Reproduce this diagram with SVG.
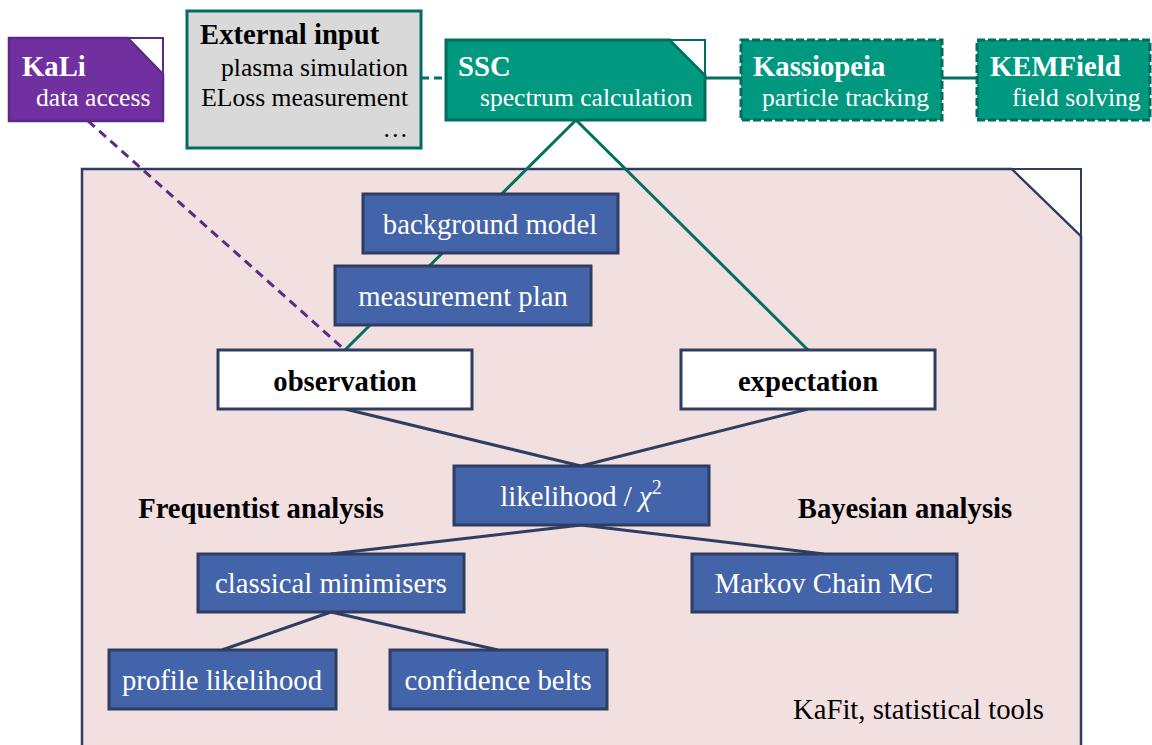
<svg xmlns="http://www.w3.org/2000/svg" width="1152" height="745" viewBox="0 0 1152 745">
<style>
.w{fill:#fff}
.b{font-weight:bold}
.m{text-anchor:middle}
.r{text-anchor:end}
.blue{fill:#4464aa;stroke:#2e3d62;stroke-width:3}
.white{fill:#fff;stroke:#2e3d62;stroke-width:3}
.teal{fill:#00987f;stroke:#006e5c;stroke-width:3}
.tealdash{fill:#00987f;stroke:#006e5c;stroke-width:3;stroke-dasharray:8 3}
.nav{stroke:#2e3d62;stroke-width:3;fill:none}
.tl{stroke:#007060;stroke-width:3;fill:none}
</style>
<rect width="1152" height="745" fill="#fff"/>
<g id="kafit">
<path d="M82,169 H1012 L1081,236 V760 H82 Z" fill="#f2dfe0" stroke="#2e3d62" stroke-width="2.5"/>
<path d="M1012,169 H1081 V236 Z" fill="#fff" stroke="#2e3d62" stroke-width="2"/>
<text x="1044" y="719" class="r" font-family="Liberation Serif" font-size="28.7">KaFit, statistical tools</text>
</g>
<g id="connectors">
<line x1="421" y1="78" x2="446" y2="78" class="tl" stroke-dasharray="8 5"/>
<line x1="705" y1="78" x2="741" y2="78" class="tl"/>
<line x1="942" y1="78" x2="977" y2="78" class="tl"/>
<line x1="576" y1="120" x2="345" y2="350" class="tl"/>
<line x1="576" y1="120" x2="808" y2="350" class="tl"/>
<line x1="88" y1="121" x2="345" y2="350" stroke="#5b2a86" stroke-width="3" stroke-dasharray="9 6"/>
<line x1="345" y1="409" x2="581" y2="466" class="nav"/>
<line x1="808" y1="409" x2="581" y2="466" class="nav"/>
<line x1="581" y1="525" x2="331" y2="554" class="nav"/>
<line x1="581" y1="525" x2="824" y2="554" class="nav"/>
<line x1="331" y1="612" x2="222" y2="650" class="nav"/>
<line x1="331" y1="612" x2="498" y2="650" class="nav"/>
</g>
<g id="kali">
<path d="M9,38 H128 L163,74 V121 H9 Z" fill="#7030a0" stroke="#5b2a86" stroke-width="2.5"/>
<path d="M128,38 H163 V74 Z" fill="#fff" stroke="#5b2a86" stroke-width="2"/>
<text x="22" y="76" class="w b" font-family="Liberation Serif" font-size="28.7">KaLi</text>
<text x="36" y="106" class="w" font-family="Liberation Serif" font-size="25.6">data access</text>
</g>
<g id="external">
<rect x="187" y="11" width="234" height="137" fill="#d9d9d9" stroke="#006e5c" stroke-width="3"/>
<text x="200" y="44" class="b" font-family="Liberation Serif" font-size="28.7">External input</text>
<text x="408" y="76" class="r" font-family="Liberation Serif" font-size="25.6">plasma simulation</text>
<text x="408" y="106" class="r" font-family="Liberation Serif" font-size="25.6">ELoss measurement</text>
<text x="408" y="137" class="r" font-family="Liberation Serif" font-size="25.6">…</text>
</g>
<g id="ssc">
<path d="M446,40 H670 L705,75 V120 H446 Z" class="teal"/>
<path d="M670,40 H705 V75 Z" fill="#fff" stroke="#006e5c" stroke-width="2"/>
<text x="458" y="76" class="w b" font-family="Liberation Serif" font-size="28.7">SSC</text>
<text x="480" y="106" class="w" font-family="Liberation Serif" font-size="25.6">spectrum calculation</text>
</g>
<g id="kassiopeia">
<rect x="741" y="40" width="201" height="80" class="tealdash"/>
<text x="753" y="76" class="w b" font-family="Liberation Serif" font-size="28.7">Kassiopeia</text>
<text x="762" y="106" class="w" font-family="Liberation Serif" font-size="25.6">particle tracking</text>
</g>
<g id="kemfield">
<rect x="977" y="40" width="173" height="80" class="tealdash"/>
<text x="990" y="76" class="w b" font-family="Liberation Serif" font-size="28.7">KEMField</text>
<text x="1012" y="106" class="w" font-family="Liberation Serif" font-size="25.6">field solving</text>
</g>
<g id="background">
<rect x="363" y="194" width="255" height="59" class="blue"/>
<text x="490" y="234" class="w m" font-family="Liberation Serif" font-size="28.7">background model</text>
</g>
<g id="measurement">
<rect x="335" y="266" width="256" height="59" class="blue"/>
<text x="463" y="306" class="w m" font-family="Liberation Serif" font-size="28.7">measurement plan</text>
</g>
<g id="observation">
<rect x="218" y="350" width="254" height="59" class="white"/>
<text x="345" y="391" class="b m" font-family="Liberation Serif" font-size="28.7">observation</text>
</g>
<g id="expectation">
<rect x="681" y="350" width="254" height="59" class="white"/>
<text x="808" y="391" class="b m" font-family="Liberation Serif" font-size="28.7">expectation</text>
</g>
<g id="likelihood">
<rect x="454" y="466" width="255" height="59" class="blue"/>
<text x="581" y="506" class="w m" font-family="Liberation Serif" font-size="28.7">likelihood / <tspan font-style="italic">χ</tspan><tspan dy="-12" font-size="20">2</tspan></text>
</g>
<g id="classical">
<rect x="198" y="554" width="266" height="58" class="blue"/>
<text x="331" y="593" class="w m" font-family="Liberation Serif" font-size="28.7">classical minimisers</text>
</g>
<g id="markov">
<rect x="692" y="554" width="265" height="58" class="blue"/>
<text x="824" y="593" class="w m" font-family="Liberation Serif" font-size="28.7">Markov Chain MC</text>
</g>
<g id="profile">
<rect x="109" y="650" width="227" height="59" class="blue"/>
<text x="222" y="690" class="w m" font-family="Liberation Serif" font-size="28.7">profile likelihood</text>
</g>
<g id="confidence">
<rect x="390" y="650" width="217" height="59" class="blue"/>
<text x="498" y="690" class="w m" font-family="Liberation Serif" font-size="28.7">confidence belts</text>
</g>
<g id="labels">
<text x="261" y="518" class="b m" font-family="Liberation Serif" font-size="28.7">Frequentist analysis</text>
<text x="905" y="518" class="b m" font-family="Liberation Serif" font-size="28.7">Bayesian analysis</text>
</g>
</svg>
